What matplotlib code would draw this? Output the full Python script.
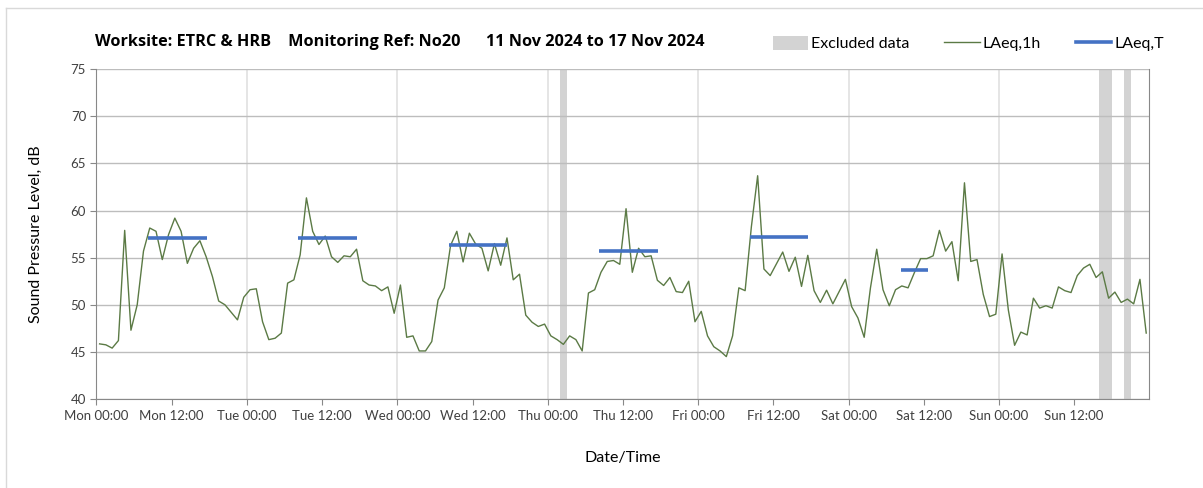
import matplotlib
matplotlib.use("Agg")
import matplotlib.pyplot as plt
from matplotlib.lines import Line2D
from matplotlib.patches import Patch
import numpy as np

# Hourly LAeq,1h values, Mon 00:00 .. Sun 23:00 (168 hours)
laeq_1h = [
    45.85, 45.75, 45.4, 46.2, 57.9, 47.3, 50.0, 55.7, 58.15, 57.8,
    54.8, 57.45, 59.2, 57.8, 54.4, 56.0, 56.8, 55.1, 53.0, 50.4,
    50.0, 49.2, 48.4, 50.8, 51.6, 51.7, 48.2, 46.3, 46.45, 47.0,
    52.3, 52.65, 55.3, 61.35, 57.8, 56.4, 57.3, 55.1, 54.5, 55.2,
    55.1, 55.9, 52.55, 52.1, 52.0, 51.5, 51.9, 49.1, 52.1, 46.55,
    46.7, 45.1, 45.1, 46.1, 50.5, 51.8, 56.3, 57.8, 54.55, 57.6,
    56.45, 56.0, 53.6, 56.5, 54.2, 57.1, 52.65, 53.25, 48.9, 48.15,
    47.7, 47.95, 46.7, 46.3, 45.8, 46.7, 46.3, 45.1, 51.25, 51.6,
    53.45, 54.6, 54.7, 54.3, 60.2, 53.45, 56.0, 55.1, 55.2, 52.6,
    52.05, 52.9, 51.4, 51.3, 52.5, 48.2, 49.3, 46.7, 45.55, 45.1,
    44.5, 46.7, 51.8, 51.5, 58.3, 63.7, 53.8, 53.1, 54.35, 55.6,
    53.55, 55.05, 51.95, 55.25, 51.5, 50.25, 51.55, 50.1, 51.4, 52.7,
    49.8, 48.6, 46.55, 51.8, 55.9, 51.6, 49.9, 51.6, 52.0, 51.8,
    53.4, 54.9, 54.9, 55.2, 57.9, 55.7, 56.7, 52.55, 62.95, 54.6,
    54.8, 51.1, 48.75, 49.0, 55.4, 49.45, 45.7, 47.1, 46.8, 50.7,
    49.65, 49.9, 49.65, 51.9, 51.5, 51.3, 53.1, 53.9, 54.3, 52.9,
    53.5, 50.7, 51.35, 50.25, 50.6, 50.1, 52.7, 47.0,
]

# Daytime LAeq,T periods (hours from Mon 00:00)
laeq_t_start = [8.2, 32.2, 56.3, 80.2, 104.2, 128.4]
laeq_t_end = [17.6, 41.5, 65.5, 89.6, 113.6, 132.7]
laeq_t_value = [57.1, 57.1, 56.3, 55.7, 57.2, 53.7]

# Excluded data windows (hours from Mon 00:00)
excl_start = [74, 160, 164]
excl_end = [75, 162, 165]

days = ["Mon", "Tue", "Wed", "Thu", "Fri", "Sat", "Sun"]
tick_labels = [f"{d} {t}" for d in days for t in ("00:00", "12:00")]

GREEN = "#5b7a45"
BLUE = "#4472c4"
EXCL = "#d3d3d3"
TXT = "#404040"

plt.rcParams["font.family"] = ["Lato", "DejaVu Sans"]

fig = plt.figure(figsize=(12.03, 4.88), dpi=100)
ax = fig.add_axes([0.0802, 0.1824, 0.8752, 0.6756])

hours = np.arange(len(laeq_1h)) + 0.5
for s, e in zip(excl_start, excl_end):
    ax.axvspan(s, e, color=EXCL, lw=0, zorder=1)
ax.plot(hours, laeq_1h, color=GREEN, lw=1.0, zorder=3)
for s, e, v in zip(laeq_t_start, laeq_t_end, laeq_t_value):
    ax.plot([s, e], [v, v], color=BLUE, lw=2.6, solid_capstyle="butt", zorder=4)

ax.set_xlim(0, 168)
ax.set_ylim(40, 75)
ax.set_xticks(np.arange(0, 168, 12))
ax.set_xticklabels(tick_labels)
ax.set_yticks(np.arange(40, 76, 5))
ax.tick_params(axis="both", labelsize=9.5, labelcolor=TXT, color="#888888",
               direction="out", length=4)
ax.tick_params(axis="x", pad=4)

ax.grid(axis="y", color="#bdbdbd", lw=1.0, zorder=0)
for d in range(24, 168, 24):
    ax.axvline(d, color="#e0e0e0", lw=1.2, zorder=0)
ax.spines["top"].set_visible(False)
for side in ("left", "bottom", "right"):
    ax.spines[side].set_color("#888888")

ax.set_ylabel("Sound Pressure Level, dB", fontsize=11.5, color="black", labelpad=20)
ax.set_xlabel("Date/Time", fontsize=11.5, color="black", labelpad=21)

fig.text(0.079, 0.913,
         "Worksite: ETRC & HRB    Monitoring Ref: No20      11 Nov 2024 to 17 Nov 2024",
         fontsize=11.7, fontweight="bold", ha="left", va="center",
         family=["Open Sans", "DejaVu Sans"])

handles = [
    Patch(facecolor=EXCL, edgecolor="none", label="Excluded data"),
    Line2D([], [], color=GREEN, lw=1.0, label="LAeq,1h"),
    Line2D([], [], color=BLUE, lw=2.6, label="LAeq,T"),
]
fig.legend(handles=handles, loc="center", bbox_to_anchor=(0.805, 0.91), ncol=3,
           frameon=False, fontsize=11.5, handlelength=2.2, handleheight=0.9,
           columnspacing=2.2, handletextpad=0.2)

# chart-area frame (left and top edges)
fig.add_artist(Line2D([5.5 / 1203, 5.5 / 1203], [0, 1 - 8 / 488],
                      transform=fig.transFigure, color="#d9d9d9", lw=1))
fig.add_artist(Line2D([5.5 / 1203, 1], [1 - 8 / 488, 1 - 8 / 488],
                      transform=fig.transFigure, color="#d9d9d9", lw=1))

fig.savefig("out.png", dpi=100)
